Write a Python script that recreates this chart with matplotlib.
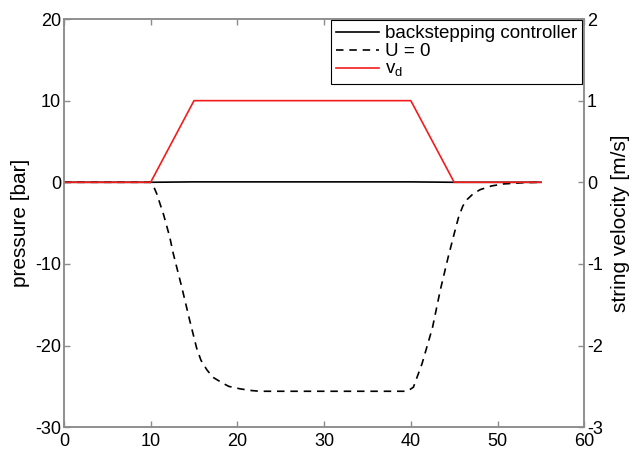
"""Pressure and string velocity: backstepping controller vs. U = 0."""

import matplotlib

matplotlib.use("Agg")
import matplotlib.pyplot as plt

plt.rcParams["font.family"] = ["Liberation Sans", "DejaVu Sans"]
plt.rcParams["axes.unicode_minus"] = False

# time axis [s] and pressure [bar]
t_bs = [0, 10, 15, 25, 40, 45, 55]
p_bs = [0, 0, 0.05, 0.05, 0.05, 0, 0]

t_u0 = [0, 10, 10.3, 10.7, 11.5, 12.2, 12.6, 13.6, 14.5, 15.3, 15.8, 16.5,
        17.2, 18.3, 19.0, 20.3, 21.5, 22.6, 25, 30, 35, 39.6, 40.3, 41.3,
        42.5, 43.4, 44.3, 45.1, 45.5, 46.0, 46.5, 47.2, 48.0, 49.3, 50.7,
        53, 55]
p_u0 = [0, 0, -0.4, -1.4, -4.0, -6.7, -8.7, -12.9, -16.9, -20.3, -21.8,
        -23.0, -23.9, -24.6, -25.0, -25.3, -25.5, -25.6, -25.6, -25.6, -25.6,
        -25.6, -25.1, -22.2, -17.8, -13.2, -9.2, -5.9, -4.3, -2.9, -2.1,
        -1.4, -0.9, -0.45, -0.2, -0.05, 0]

# desired string velocity [m/s]
t_vd = [0, 10, 15, 40, 45, 55]
v_d = [0, 0, 1, 1, 0, 0]

x_ticks = [0, 10, 20, 30, 40, 50, 60]
p_ticks = [-30, -20, -10, 0, 10, 20]
v_ticks = [-3, -2, -1, 0, 1, 2]

spine_grey = "#8c8c8c"

fig = plt.figure(figsize=(6.33, 4.53), dpi=100)
ax = fig.add_axes([0.101, 0.057, 0.822, 0.901])
ax2 = ax.twinx()

h_bs, = ax.plot(t_bs, p_bs, color="black", lw=1.2, label="backstepping controller")
h_u0, = ax.plot(t_u0, p_u0, color="black", lw=1.2, ls=(0, (4.5, 3.5)), label="U = 0")
h_vd, = ax2.plot(t_vd, v_d, color="#f21c1c", lw=1.2, label="v$_\\mathregular{d}$")

ax.set_xlim(0, 60)
ax.set_ylim(-30, 20)
ax2.set_ylim(-3, 2)
ax.set_xticks(x_ticks)
ax.set_yticks(p_ticks)
ax2.set_yticks(v_ticks)

for a in (ax, ax2):
    for s in a.spines.values():
        s.set_color(spine_grey)
        s.set_linewidth(1.1)
    a.tick_params(direction="in", length=4, width=1, color=spine_grey,
                  labelsize=13, pad=2)
ax.tick_params(top=True)
ax.tick_params(axis="x", pad=4)

ax.set_ylabel("pressure [bar]", fontsize=15, labelpad=4)
ax2.set_ylabel("string velocity [m/s]", fontsize=15, labelpad=6)

leg = ax2.legend(handles=[h_bs, h_u0, h_vd], loc="upper right",
                 bbox_to_anchor=(0.995, 0.997), borderaxespad=0, fontsize=13.5,
                 frameon=True, fancybox=False, framealpha=1, edgecolor="black",
                 handlelength=2.3, handletextpad=0.3, labelspacing=0.05,
                 borderpad=0.25)
leg.get_frame().set_linewidth(0.8)

fig.savefig("out.png", dpi=100)
